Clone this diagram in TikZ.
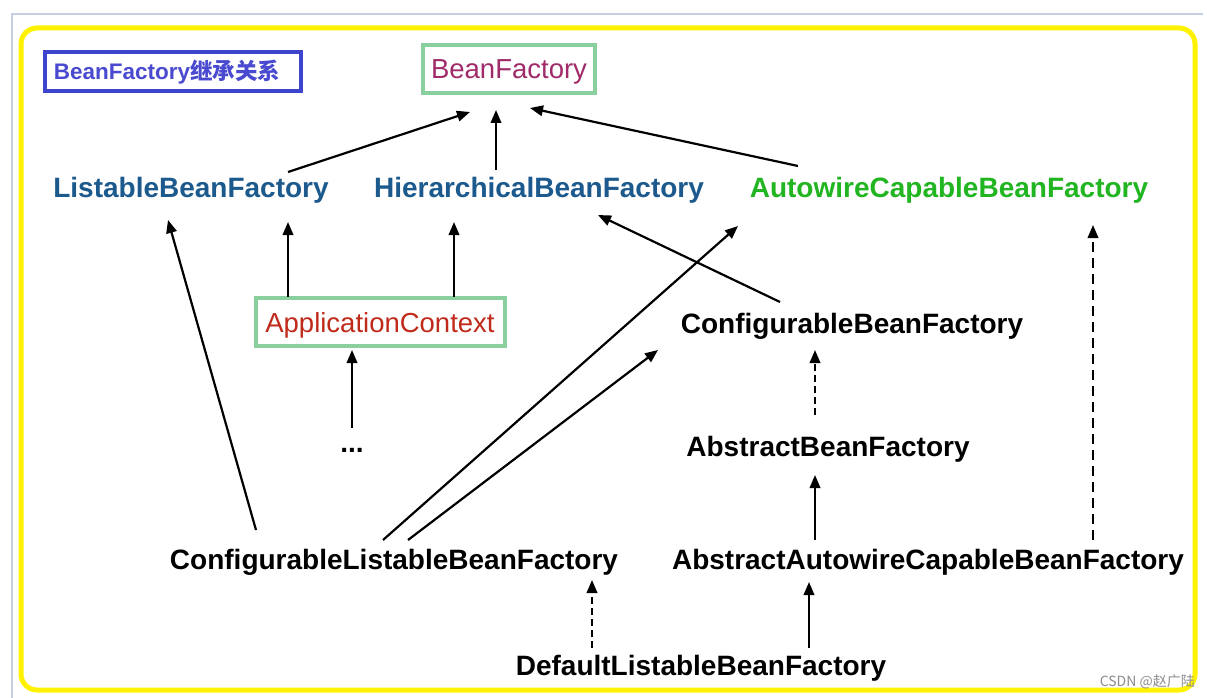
\documentclass[tikz,border=0pt]{standalone}
\usepackage{fontspec}
\setmainfont{Liberation Sans}
\newfontfamily\cjk{Noto Sans CJK SC}
\newfontfamily\cjkb{Noto Sans CJK SC Bold}
\usetikzlibrary{arrows.meta}
\definecolor{lblue}{HTML}{1C5A8E}
\definecolor{lgreen}{HTML}{22B522}
\definecolor{lmag}{HTML}{A02A6A}
\definecolor{lred}{HTML}{C02A1A}
\definecolor{boxgreen}{HTML}{8ACF9E}
\definecolor{tborder}{HTML}{3F44CC}
\definecolor{ttext}{HTML}{4A4AD0}
\definecolor{frameyellow}{HTML}{FFF200}
\definecolor{framegray}{HTML}{C5D0E0}
\tikzset{
  lbl/.style={inner sep=0pt, anchor=base, font=\fontsize{28}{30}\selectfont\bfseries},
  boxed/.style={draw=boxgreen, line width=4pt, inner sep=0pt, text height=22pt, text depth=2pt, font=\fontsize{27.5}{30}\selectfont},
  arr/.style={line width=2.2pt, -{Triangle[length=13pt,width=10.5pt]}},
  longdash/.style={dash pattern=on 10pt off 6pt},
  shortdash/.style={dash pattern=on 7pt off 4pt},
}
\begin{document}
\begin{tikzpicture}[x=1pt,y=-1pt]
\useasboundingbox (0,0) rectangle (1207,698);
\fill[white] (0,0) rectangle (1207,698);
% outer frame
\draw[framegray, line width=1.5pt] (12,698) -- (12,14) -- (1203,14);
\draw[frameyellow, line width=5pt, rounded corners=16pt] (21,28) rectangle (1195,690);
% title
\node[draw=tborder, line width=4pt, minimum width=256pt, minimum height=39pt, inner sep=0pt, text=ttext,
  text height=17pt, text depth=1pt,
  font=\fontsize{22.5}{25}\selectfont\bfseries] (title) at (173,72) {BeanFactory{\cjkb 继承关系}\hspace*{12pt}};
% nodes
\node[boxed, minimum width=172pt, minimum height=48pt, text=lmag] (bf) at (509,69) {BeanFactory};
\node[lbl, text=lblue] (lbf) at (191,197) {ListableBeanFactory};
\node[lbl, text=lblue] (hbf) at (539,197) {HierarchicalBeanFactory};
\node[lbl, text=lgreen] (acbf) at (949,197) {AutowireCapableBeanFactory};
\node[boxed, minimum width=249pt, minimum height=48pt, text=lred] (ac) at (380,322) {ApplicationContext};
\node[lbl] (cbf) at (852,333) {ConfigurableBeanFactory};
\node[lbl] (dots) at (352,452) {...};
\node[lbl] (abf) at (828,456) {AbstractBeanFactory};
\node[lbl] (clbf) at (394,569) {ConfigurableListableBeanFactory};
\node[lbl] (aacbf) at (928,569) {AbstractAutowireCapableBeanFactory};
\node[lbl] (dlbf) at (701,675) {DefaultListableBeanFactory};
% arrows
\draw[arr] ([shift={(97,-25)}]lbf.base) -- ([shift={(-39,43)}]bf.center);
\draw[arr] ([shift={(-43,-27)}]hbf.base) -- ([shift={(-13,41)}]bf.center);
\draw[arr] ([shift={(-151,-31)}]acbf.base) -- ([shift={(21,39)}]bf.center);
\draw[arr] ([shift={(-92,-25)}]ac.center) -- ([shift={(97,25)}]lbf.base);
\draw[arr] ([shift={(74,-25)}]ac.center) -- ([shift={(-85,25)}]hbf.base);
\draw[arr] ([shift={(0,-24)}]dots.base) -- ([shift={(-28,28)}]ac.center);
\draw[arr] ([shift={(-138,-39)}]clbf.base) -- ([shift={(-23,23)}]lbf.base);
\draw[arr] ([shift={(-11,-29)}]clbf.base) -- ([shift={(-211,29)}]acbf.base);
\draw[arr] ([shift={(14,-29)}]clbf.base) -- ([shift={(-194,17)}]cbf.base);
\draw[arr] ([shift={(-72,-31)}]cbf.base) -- ([shift={(59,18)}]hbf.base);
\draw[arr, shortdash] ([shift={(-13,-41)}]abf.base) -- ([shift={(-37,17)}]cbf.base);
\draw[arr] ([shift={(-113,-29)}]aacbf.base) -- ([shift={(-13,19)}]abf.base);
\draw[arr, longdash] ([shift={(165,-29)}]aacbf.base) -- ([shift={(144,28)}]acbf.base);
\draw[arr, shortdash] ([shift={(-109,-27)}]dlbf.base) -- ([shift={(198,11)}]clbf.base);
\draw[arr] ([shift={(108,-27)}]dlbf.base) -- ([shift={(-119,13)}]aacbf.base);
% watermark
\node[anchor=base east, inner sep=0pt, text=black!45, font=\cjk\fontsize{14}{16}\selectfont] (wm) at (1195,686) {CSDN @赵广陆};
\end{tikzpicture}
\end{document}
